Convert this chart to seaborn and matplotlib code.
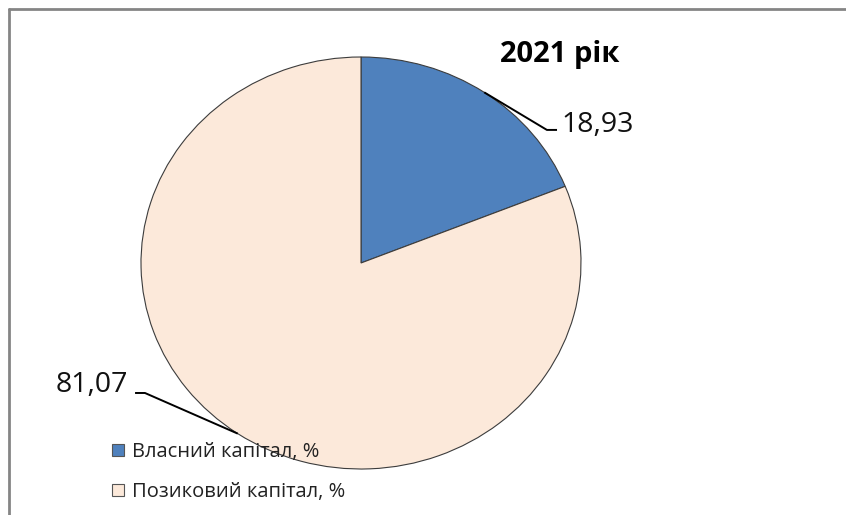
import matplotlib
matplotlib.use("Agg")
import numpy as np
import matplotlib.pyplot as plt
import seaborn as sns
from matplotlib.lines import Line2D
from matplotlib.patches import Patch

# Capital structure, 2021
categories = ["Власний капітал, %", "Позиковий капітал, %"]
shares = [18.93, 81.07]
value_labels = ["18,93", "81,07"]
title_text = "2021 рік"
slice_colors = ["#4F81BD", "#FCE9DA"]

sns.set_theme(style="white")
plt.rcParams["font.family"] = ["Open Sans", "DejaVu Sans"]

W, H = 846, 515
fig = plt.figure(figsize=(W / 100, H / 100), dpi=100)
fig.patch.set_facecolor("white")

# chart-area frame (left and top edges visible)
frame_kw = dict(color="#858585", linewidth=2.0, transform=fig.transFigure)
fig.add_artist(Line2D([9 / W, 9 / W], [0, 1 - 9 / H], **frame_kw))
fig.add_artist(Line2D([9 / W, 1], [1 - 9 / H, 1 - 9 / H], **frame_kw))

# pie axes (stretched slightly wider than tall)
ax = fig.add_axes([141 / W, (H - 469) / H, 440 / W, 412 / H])
wedges, _ = ax.pie(
    shares,
    colors=slice_colors,
    startangle=90,
    counterclock=False,
    radius=1.0,
    wedgeprops=dict(edgecolor="#3c3c3c", linewidth=0.8),
)
ax.set_aspect("auto")
ax.set_xlim(-1, 1)
ax.set_ylim(-1, 1)
ax.axis("off")

# leader lines and value labels
label_layout = [
    # elbow, end of horizontal tick, text anchor, alignment
    ((0.845, 0.646), (0.891, 0.646), (0.909, 0.636), "left"),
    ((-0.982, -0.631), (-1.027, -0.631), (-1.059, -0.626), "right"),
]
for w, txt, (elbow, tick_end, txt_pos, ha) in zip(wedges, value_labels, label_layout):
    mid = np.deg2rad((w.theta1 + w.theta2) / 2)
    start = (np.cos(mid), np.sin(mid))
    ax.plot([start[0], elbow[0], tick_end[0]], [start[1], elbow[1], tick_end[1]],
            color="black", linewidth=1.4, clip_on=False, solid_capstyle="butt")
    ax.text(txt_pos[0], txt_pos[1], txt, ha=ha, va="baseline",
            fontsize=20.5, color="#111111", clip_on=False)

fig.text(560 / W, 1 - 62 / H, title_text, ha="center", va="baseline",
         fontsize=21, fontweight="bold", color="black")

handles = [Patch(facecolor=c, edgecolor="#555555", linewidth=0.8) for c in slice_colors]
fig.legend(handles, categories, loc="upper left",
           bbox_to_anchor=(112 / W, 1 - 442 / H),
           frameon=False, fontsize=14.5, handlelength=0.6, handleheight=0.6,
           handletextpad=0.4, labelspacing=1.0, borderpad=0, borderaxespad=0,
           labelcolor="#222222")

fig.savefig("out.png", dpi=100)
